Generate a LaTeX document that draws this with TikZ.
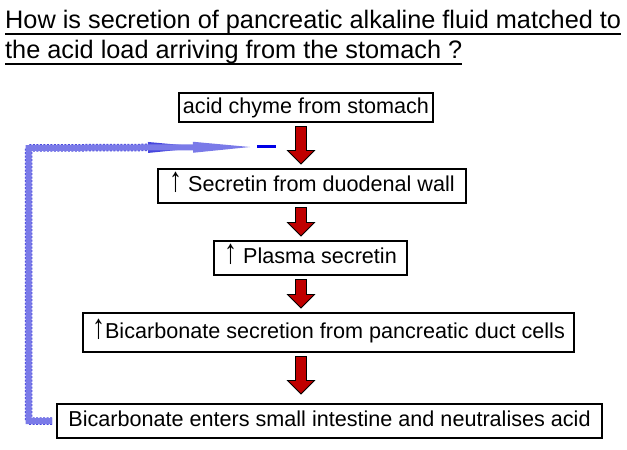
\documentclass[tikz,border=0pt]{standalone}
\usepackage{fontspec}
\setmainfont{Liberation Sans}
\usetikzlibrary{arrows.meta,positioning,calc}
\definecolor{chymered}{RGB}{192,0,0}
\definecolor{fbblue}{RGB}{122,122,232}
\definecolor{fbedge}{RGB}{70,70,222}
\definecolor{minusblue}{RGB}{0,0,230}
\newcommand{\titlefont}{\fontsize{25.3}{30}\selectfont}
\newcommand{\boxfont}{\fontsize{21.6}{26}\selectfont}
\newcommand{\uparr}{\scalebox{1.2}[1.6]{\bfseries ↑}}
\tikzstyle{flowbox} = [draw=black, line width=1.6pt, inner xsep=4pt, inner ysep=0pt, font=\boxfont, text height=16pt, text depth=4.5pt]
\tikzstyle{bigarrow} = [line width=10pt, draw=chymered, shorten <=4.5pt, shorten >=5pt, -{Triangle[width=24pt,length=12pt,line width=0pt]}, preaction={draw=black, line width=12pt, shorten <=3.5pt, shorten >=3.6pt, -{Triangle[width=28.8pt,length=14.4pt,line width=0pt]}}]
\tikzstyle{feedback} = [line width=6pt, draw=fbblue, shorten <=4pt, -{Triangle[width=11pt,length=57pt,line width=0pt]}, preaction={draw=fbedge, line width=7.5pt, dash pattern=on 2pt off 1.5pt, shorten >=45pt}]

\begin{document}
\begin{tikzpicture}[x=1pt, y=-1pt]
\useasboundingbox (0,0) rectangle (627,450);

% question
\node[anchor=base west, inner sep=0pt, font=\titlefont] (q1) at (5,28) {How is secretion of pancreatic alkaline fluid matched to};
\node[anchor=base west, inner sep=0pt, font=\titlefont] (q2) at (5,58) {the acid load arriving from the stomach ?};
\draw[line width=1.8pt] ([yshift=-0.5pt]q1.south west) -- ([yshift=-0.5pt]q1.south east);
\draw[line width=1.8pt] ([yshift=-0.5pt]q2.south west) -- ([yshift=-0.5pt]q2.south east);

% chain of events
\node[flowbox, minimum width=252, minimum height=29] (chyme) at (306,107.5) {acid chyme from stomach};
\node[flowbox, minimum width=308, minimum height=34] (duodwall) at (312,186) {\uparr\ Secretin from duodenal wall};
\node[flowbox, minimum width=193, minimum height=34] (plasma) at (310.5,258) {\uparr\ Plasma secretin};
\node[flowbox, minimum width=491, minimum height=39] (ductcells) at (328.5,332.5) {\uparr Bicarbonate secretion from pancreatic duct cells};
\node[flowbox, minimum width=545, minimum height=34] (neutral) at (329.5,421) {Bicarbonate enters small intestine and neutralises acid};

\coordinate (ax) at (301,0);
\draw[bigarrow] (chyme.south -| ax) -- (duodwall.north -| ax);
\draw[bigarrow] (duodwall.south -| ax) -- (plasma.north -| ax);
\draw[bigarrow] (plasma.south -| ax) -- (ductcells.north -| ax);
\draw[bigarrow] (ductcells.south -| ax) -- ([yshift=5pt]neutral.north -| ax);

% negative feedback
\coordinate (fbcorner) at (28.5,148);
\coordinate (fbend) at (250,147);
\node[inner sep=0pt, text=minusblue] (minus) at (266.5,146.5) {\rule{19pt}{2.5pt}};
\draw[feedback] (neutral.west) -| (fbcorner) -- (fbend);
\end{tikzpicture}
\end{document}
